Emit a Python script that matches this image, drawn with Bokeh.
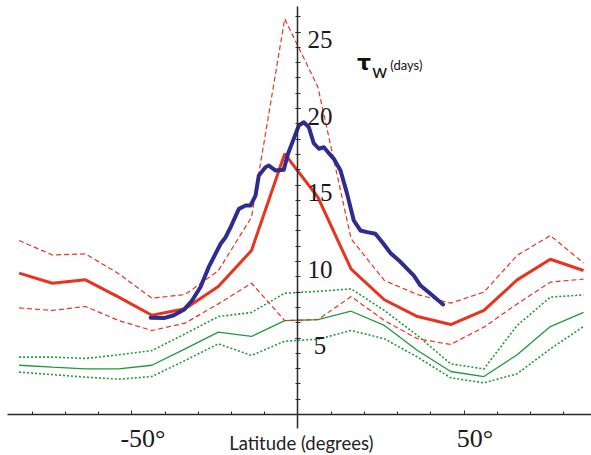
from bokeh.plotting import figure
from bokeh.models import LinearAxis, FixedTicker, Range1d, Label
from bokeh.embed import file_html
from bokeh.resources import INLINE

# ---- data ----
lat = [-84, -74, -64, -54, -44, -34, -24, -14, -4, 6, 16, 26, 36, 46, 56, 66, 76, 86]

red_mean = [9.24, 8.58, 8.80, 7.67, 6.49, 6.91, 8.37, 10.72, 17.04, 14.2, 9.5, 7.5, 6.4, 5.88, 6.80, 8.8, 10.15, 9.41]
red_upper = [11.37, 10.43, 10.5, 9.2, 7.6, 7.84, 9.4, 12.9, 25.86, 21.4, 11.48, 8.76, 7.84, 7.28, 8.0, 10.4, 11.7, 9.9]
red_lower = [6.97, 6.8, 7.06, 6.14, 5.49, 5.97, 7.23, 8.58, 6.14, 6.2, 7.71, 6.14, 4.95, 4.58, 5.71, 7.23, 8.65, 8.85]

green_mean = [3.22, 3.09, 2.98, 2.98, 3.22, 4.29, 5.38, 5.10, 6.14, 6.2, 6.75, 5.82, 4.18, 2.81, 2.48, 3.9, 5.75, 6.67]
green_upper = [3.75, 3.75, 3.66, 3.9, 4.18, 5.27, 6.4, 6.67, 7.93, 8.05, 8.21, 6.8, 5.16, 3.31, 2.98, 5.82, 7.67, 7.82]
green_lower = [2.77, 2.61, 2.44, 2.31, 2.48, 3.53, 4.62, 3.86, 4.79, 4.92, 5.49, 4.95, 3.75, 2.4, 2.07, 2.66, 4.29, 5.75]

blue_lat = [-44.4, -40.4, -37.4, -34.4, -31.9, -29.4, -26.9, -23.3, -21.8, -20.3, -17.8, -15.8, -14.3,
            -12.8, -11.8, -9.8, -8.8, -6.8, -4.3, -3.0, -1.5, 0.25, 1.75, 3.25, 4.75, 6.3, 7.8, 9.3,
            10.8, 12.8, 14.8, 16.8, 18.8, 20.8, 23.3, 25.4, 27.9, 30.4, 32.9, 34.9, 36.9, 39.9, 43.7]
blue_tau = [6.32, 6.30, 6.49, 6.84, 7.45, 8.32, 9.63, 11.16, 11.59, 12.24, 13.44, 13.66, 13.66,
            14.31, 15.62, 16.16, 16.27, 15.95, 15.99, 17.04, 17.9, 18.89, 19.1, 18.78, 17.73, 17.37, 17.47, 17.08,
            16.71, 15.95, 14.42, 12.68, 12.03, 11.92, 11.81, 11.26, 10.54, 10.07, 9.52, 9.08, 8.43, 7.89, 7.19]

x_major = [-50, 50]
x_tick_labels = ["-50°", "50°"]
x_minor = [-80, -70, -60, -40, -30, -20, -10, 10, 20, 30, 40, 60, 70, 80]
y_major = [5, 10, 15, 20, 25]
y_tick_labels = ["5", "10", "15", "20", "25"]
y_minor = list(range(1, 27))

RED = "#e8341f"
GREEN = "#1e9a3c"
BLUE = "#2e2c8e"
AXIS = "#2a2a2a"
SERIF = "Liberation Serif"

p = figure(width=591, height=455,
           x_range=Range1d(-89.6, 88.4), y_range=Range1d(-2.68, 27.06),
           output_backend="svg", toolbar_location=None,
           x_axis_location=None, y_axis_location=None,
           min_border_left=0, min_border_right=0, min_border_top=0, min_border_bottom=0)
p.outline_line_color = None
p.xgrid.grid_line_color = None
p.ygrid.grid_line_color = None

xaxis = LinearAxis(fixed_location=0, bounds=(-87.4, 88.4),
                   ticker=FixedTicker(ticks=x_major, minor_ticks=x_minor),
                   major_label_text_color=None, axis_line_color=AXIS, axis_line_width=1.5,
                   major_tick_in=4, major_tick_out=0, minor_tick_in=3, minor_tick_out=0,
                   major_tick_line_color=AXIS, minor_tick_line_color=AXIS)
p.add_layout(xaxis, "below")

yaxis = LinearAxis(fixed_location=0, bounds=(-0.94, 26.7),
                   ticker=FixedTicker(ticks=y_major, minor_ticks=y_minor),
                   major_label_text_color=None, axis_line_color=AXIS, axis_line_width=1.5,
                   major_tick_in=2, major_tick_out=3, minor_tick_in=2, minor_tick_out=3,
                   major_tick_line_color=AXIS, minor_tick_line_color=AXIS)
p.add_layout(yaxis, "right")

# green series
p.line(lat, green_upper, line_color=GREEN, line_width=1.6, line_dash="2 2")
p.line(lat, green_lower, line_color=GREEN, line_width=1.6, line_dash="2 2")
p.line(lat, green_mean, line_color=GREEN, line_width=1.3)
# red series
p.line(lat, red_upper, line_color=RED, line_width=1.2, line_dash="5 3")
p.line(lat, red_lower, line_color=RED, line_width=1.2, line_dash="5 3")
p.line(lat, red_mean, line_color=RED, line_width=3)
# blue observed
p.line(blue_lat, blue_tau, line_color=BLUE, line_width=4, line_join="round", line_cap="round")

# tick labels
for v, t in zip(y_major, y_tick_labels):
    p.add_layout(Label(x=0, y=v, text=t, x_offset=22, y_offset=-7.5, text_align="center",
                       text_baseline="alphabetic", text_font=SERIF, text_font_size="25px",
                       text_color="#1a1a1a"))
for v, t in zip(x_major, x_tick_labels):
    p.add_layout(Label(x=v, y=0, text=t, x_offset=11, y_offset=-24, text_align="center",
                       text_baseline="alphabetic", text_font=SERIF, text_font_size="26px",
                       text_color="#1a1a1a"))

p.add_layout(Label(x=1.0, y=0, y_offset=-29, text="Latitude (degrees)", text_align="center",
                   text_baseline="alphabetic", text_font="Lato", text_font_size="18.5px",
                   text_color="#222222"))

p.add_layout(Label(x=17.8, y=22.7, y_offset=5, text="τ", text_font="DejaVu Sans", text_font_style="bold",
                   text_font_size="22px", text_baseline="alphabetic", text_color="#111111"))
p.add_layout(Label(x=22.4, y=22.16, y_offset=5, text="w", text_font="Lato", text_font_size="19px",
                   text_baseline="alphabetic", text_color="#111111"))
p.add_layout(Label(x=27.8, y=22.6, y_offset=4, text="(days)", text_font="Lato", text_font_size="13px",
                   text_baseline="alphabetic", text_color="#111111"))

open("out.html", "w").write(file_html(p, INLINE))
